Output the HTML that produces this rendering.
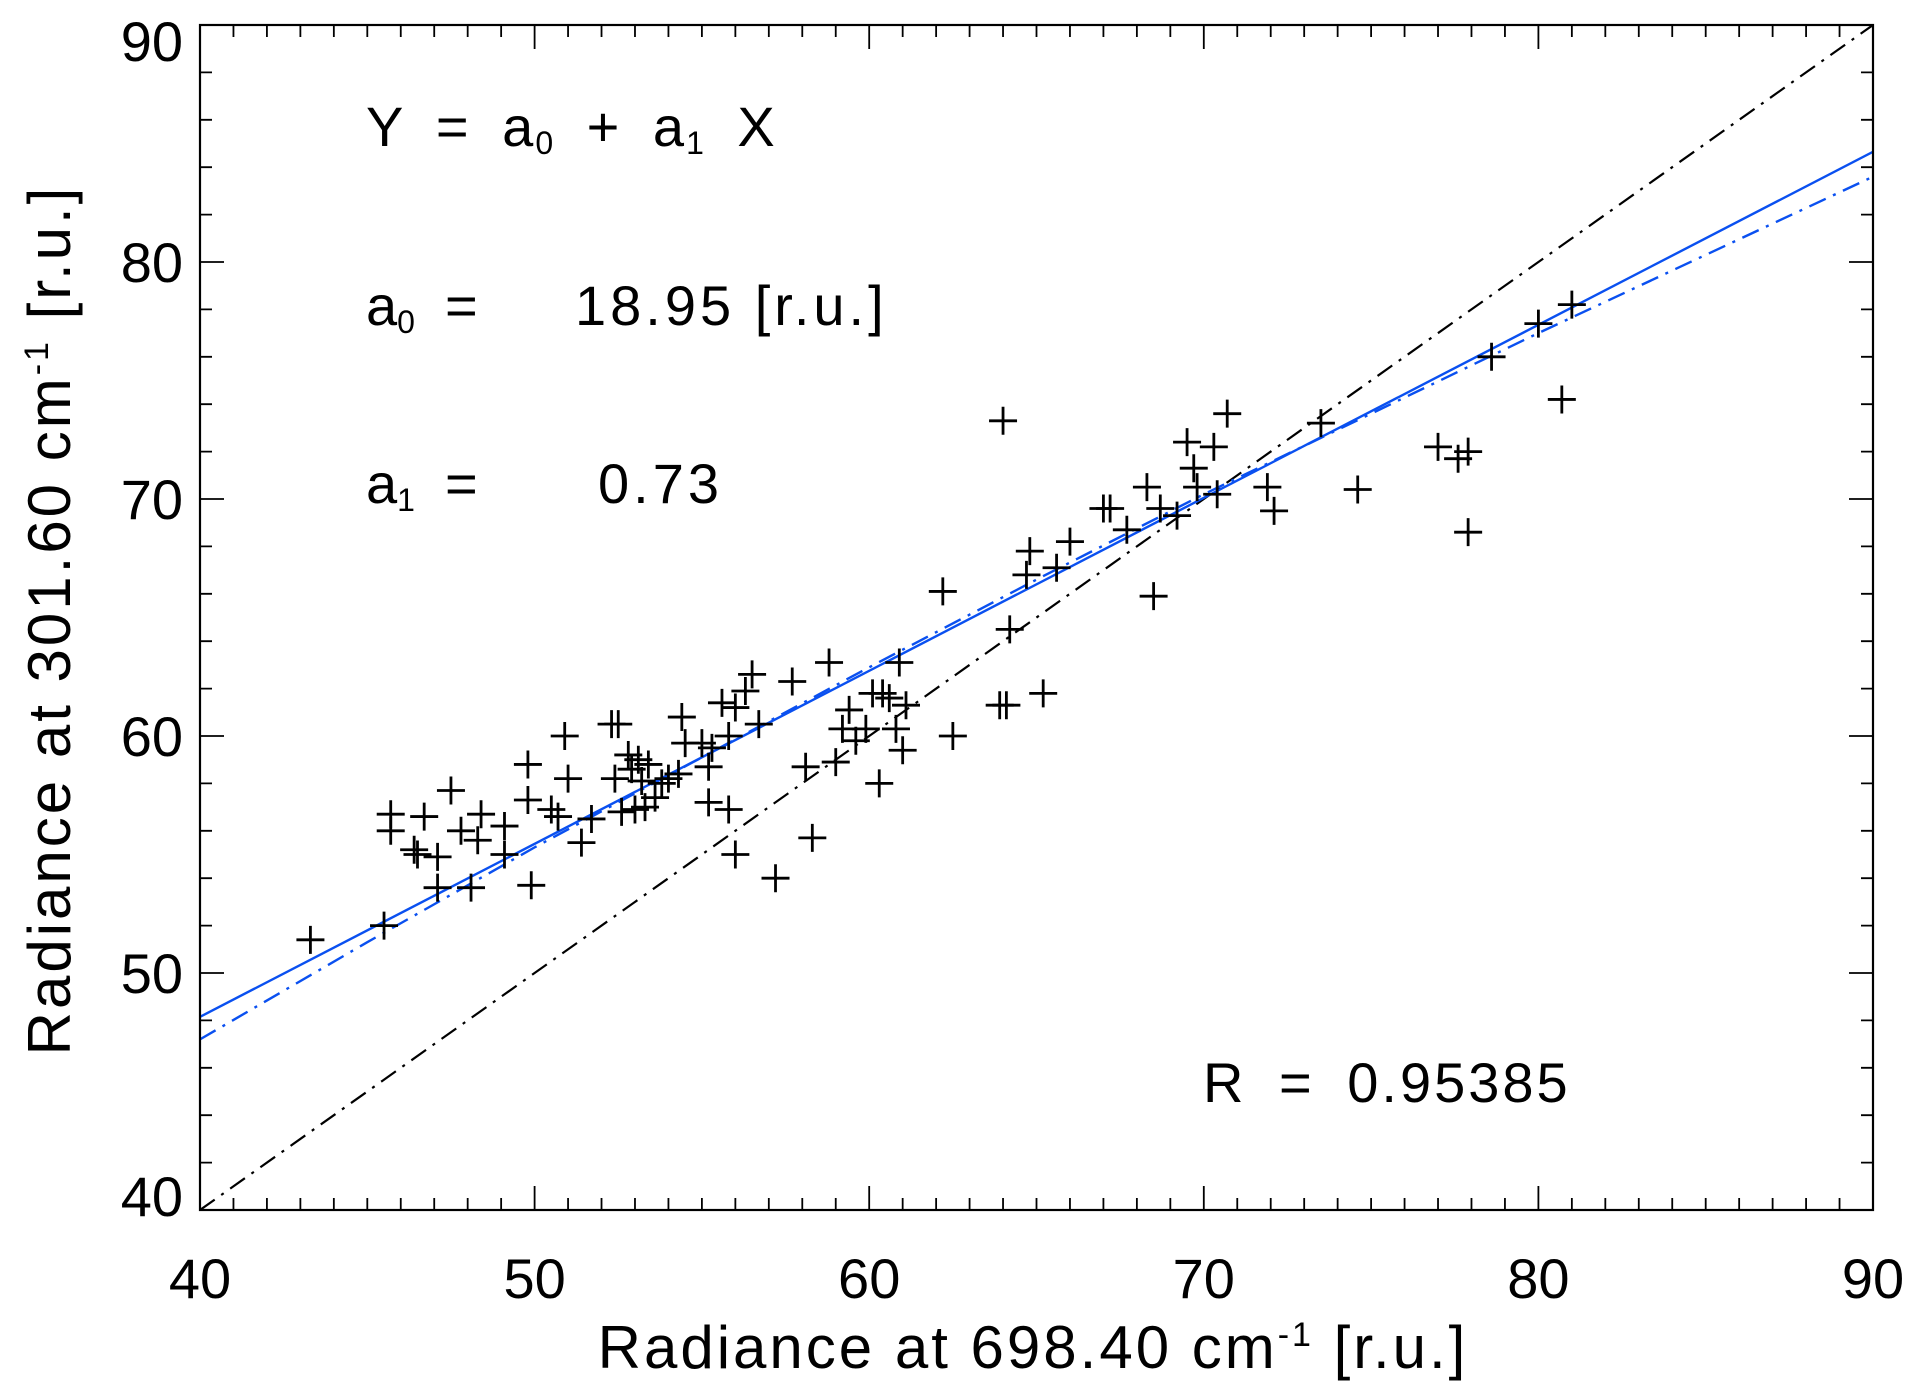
<!DOCTYPE html>
<html><head><meta charset="utf-8">
<style>
html,body{margin:0;padding:0;background:#fff;}
svg{display:block;}
text{font-family:"Liberation Sans",sans-serif;fill:#000;}
</style></head>
<body>
<svg id="chart" width="1925" height="1398" viewBox="0 0 1925 1398" xmlns="http://www.w3.org/2000/svg">
<rect x="0" y="0" width="1925" height="1398" fill="#fff"/>
<g id="plot"></g>
<g id="axes"></g>
<text x="366" y="146" font-size="56" word-spacing="14" letter-spacing="2">Y = a<tspan font-size="32" dy="8">0</tspan><tspan dy="-8"> + a</tspan><tspan font-size="32" dy="8">1</tspan><tspan dy="-8"> X</tspan></text>
<text x="366" y="325" font-size="56">a<tspan font-size="32" dy="8">0</tspan><tspan dy="-8" x="445">=</tspan><tspan x="575" letter-spacing="4">18.95 [r.u.]</tspan></text>
<text x="366" y="503" font-size="56">a<tspan font-size="32" dy="8">1</tspan><tspan dy="-8" x="445">=</tspan><tspan x="598" letter-spacing="4">0.73</tspan></text>
<text x="1203" y="1102" font-size="56" word-spacing="14" letter-spacing="3">R = 0.95385</text>
<text x="1033" y="1368" font-size="60" text-anchor="middle" letter-spacing="3">Radiance at 698.40 cm<tspan font-size="34" dy="-22">-1</tspan><tspan dy="22"> [r.u.]</tspan></text>
<text transform="translate(70,620) rotate(-90)" font-size="60" text-anchor="middle" letter-spacing="3">Radiance at 301.60 cm<tspan font-size="34" dy="-22">-1</tspan><tspan dy="22"> [r.u.]</tspan></text>
</svg>
<script>
const xTicks=[40,50,60,70,80,90];
const yTicks=[40,50,60,70,80,90];
const xsData=[43.3,45.5,45.7,45.7,46.4,46.5,46.7,47.1,47.1,47.5,47.8,48.1,48.3,48.4,49.1,49.1,49.8,49.8,49.9,50.5,50.7,50.9,51.0,51.4,51.7,52.3,52.5,52.4,52.6,52.8,52.9,53.0,53.1,53.2,53.3,53.4,53.6,53.8,54.0,54.3,54.4,54.5,55.0,55.2,55.2,55.3,55.6,55.8,55.8,56.0,56.0,56.3,56.5,56.7,57.2,57.7,58.1,58.3,58.8,59.0,59.2,59.4,59.6,59.9,60.1,60.3,60.4,60.6,60.8,60.9,61.0,61.1,62.2,62.5,63.9,64.1,64.0,64.2,64.7,64.8,65.2,65.6,66.0,67.0,67.2,67.7,68.3,68.5,68.7,69.2,69.5,69.7,69.8,70.3,70.4,70.7,71.9,72.1,73.5,74.6,77.0,77.6,77.9,77.9,78.6,80.0,80.7,81.0];
const ysData=[51.4,52.0,56.7,56.0,55.2,55.0,56.6,54.9,53.6,57.7,56.0,53.6,55.6,56.7,56.2,55.0,57.3,58.8,53.7,56.9,56.6,60.0,58.2,55.5,56.5,60.5,60.5,58.2,56.8,59.2,58.6,56.9,59.0,58.1,57.0,58.8,57.4,58.0,58.2,58.4,60.8,59.7,59.7,57.2,58.7,59.5,61.4,60.0,56.9,61.2,55.0,61.9,62.6,60.5,54.0,62.3,58.7,55.7,63.1,58.9,60.3,61.1,59.8,60.3,61.8,58.0,61.8,61.6,60.3,63.1,59.4,61.3,66.1,60.0,61.3,61.3,73.3,64.5,66.8,67.8,61.8,67.1,68.2,69.6,69.6,68.7,70.5,65.9,69.6,69.3,72.4,71.3,70.5,72.2,70.2,73.6,70.5,69.5,73.2,70.4,72.2,71.7,72.0,68.6,76.0,77.4,74.2,78.2];
const fitA0=18.95, fitA1=0.73;
const fit2X=[40,45,50,55,60,65,70,75,80,85,90];
const fit2Y=[47.2,51.3,55.3,59.1,62.9,66.6,70.2,73.6,77.0,80.3,83.6];
const X0=200,X1=1873,Y0=1210,Y1=25;
const sx=v=>X0+(v-40)/50*(X1-X0);
const sy=v=>Y0-(v-40)/50*(Y0-Y1);
const NS='http://www.w3.org/2000/svg';
const plot=document.getElementById('plot'), axes=document.getElementById('axes');
function mk(tag,attrs,parent){const e=document.createElementNS(NS,tag);for(const k in attrs)e.setAttribute(k,attrs[k]);parent.appendChild(e);return e;}
const defs=mk('defs',{},plot);const cp=mk('clipPath',{id:'c'},defs);mk('rect',{x:X0,y:Y1,width:X1-X0,height:Y0-Y1},cp);
const lg=mk('g',{'clip-path':'url(#c)'},plot);
let l=mk('line',{x1:sx(40),y1:sy(40),x2:sx(90),y2:sy(90),stroke:'#000','stroke-width':2.2,'stroke-dasharray':'18 8 3 8'},lg);


l=mk('polyline',{points:fit2X.map((x,i)=>sx(x)+','+sy(fit2Y[i])).join(' '),fill:'none',stroke:'#0a50f0','stroke-width':2.4,'stroke-dasharray':'18 8 3 8'},lg);


l=mk('line',{x1:sx(40),y1:sy(fitA0+fitA1*40),x2:sx(90),y2:sy(fitA0+fitA1*90),stroke:'#0a50f0','stroke-width':2.4},lg);


for(let i=0;i<xsData.length;i++){
  const cx=sx(xsData[i]),cy=sy(ysData[i]),h=14;
  const p=mk('path',{d:`M${cx-h} ${cy}H${cx+h}M${cx} ${cy-h}V${cy+h}`,stroke:'#000','stroke-width':2.8,fill:'none'},plot);
  
  
}
const fr=mk('rect',{x:X0,y:Y1,width:X1-X0,height:Y0-Y1,fill:'none',stroke:'#000','stroke-width':2.2},axes);


let d='';
for(let v=40;v<=90;v+=1){const x=sx(v),L=(v%10===0)?24:12;d+=`M${x} ${Y0}V${Y0-L}M${x} ${Y1}V${Y1+L}`;}
for(let v=40;v<=90;v+=2){const y=sy(v),L=(v%10===0)?24:12;d+=`M${X0} ${y}H${X0+L}M${X1} ${y}H${X1-L}`;}
const tk=mk('path',{d:d,stroke:'#000','stroke-width':1.8,fill:'none'},axes);


xTicks.forEach(v=>{const t=mk('text',{x:sx(v),y:1298,'font-size':56,'text-anchor':'middle'},axes);t.textContent=v;

});
yTicks.forEach(v=>{let y=sy(v)+20;if(v===90)y=sy(v)+36;if(v===40)y=sy(v)+6;const t=mk('text',{x:183,y:y,'font-size':56,'text-anchor':'end'},axes);t.textContent=v;

});
</script>
</body></html>
